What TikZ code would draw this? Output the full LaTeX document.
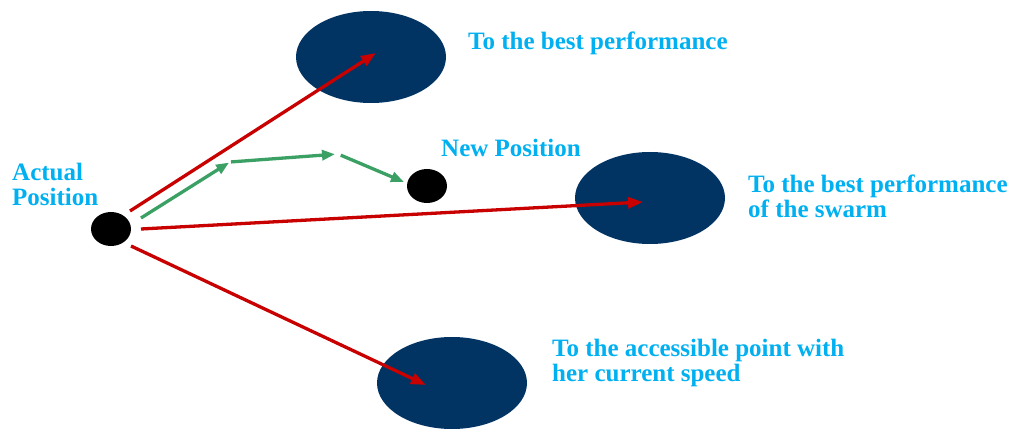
\documentclass[tikz,border=0pt]{standalone}
\usepackage{fontspec}
\setmainfont{Liberation Serif}
\usetikzlibrary{shapes.geometric,arrows.meta}
\definecolor{lblue}{RGB}{0,176,240}
\definecolor{navy}{RGB}{2,52,99}
\definecolor{darkred}{RGB}{200,0,0}
\definecolor{dgreen}{RGB}{58,160,100}
\tikzset{
  blob/.style={ellipse,fill=navy,draw=none,minimum width=150pt,minimum height=92pt,inner sep=0pt},
  dot/.style={ellipse,fill=black,draw=none,minimum width=40pt,minimum height=34pt,inner sep=0pt},
  lbl/.style={text=lblue,font=\bfseries\fontsize{25}{25}\selectfont,align=left,inner sep=0pt,anchor=base west},
  redarr/.style={draw=darkred,line width=3.3pt,-{Triangle[length=15pt,width=11pt]}},
  greenarr/.style={draw=dgreen,line width=3.3pt,-{Triangle[length=13pt,width=10pt]}}
}
\begin{document}
\begin{tikzpicture}[x=1pt,y=-1pt]
\useasboundingbox (0,0) rectangle (1010,430);
\node[blob] (best) at (371,57) {};
\node[blob] (swarm) at (650,198) {};
\node[blob] (speed) at (452,383) {};
\node[dot] (actual) at (111,229) {};
\node[dot] (newpos) at (427,186) {};
\coordinate (w1) at (230,162);
\coordinate (w2) at (338,154);
\node[lbl] (lbest) at (468,50) {To the best performance};
\node[lbl] (lnew) at (441,157) {New Position};
\node[lbl] (lactual) at (12,206) {Actual\\Position};
\node[lbl] (lswarm) at (748,218) {To the best performance\\of the swarm};
\node[lbl] (lspeed) at (552,382) {To the accessible point with\\her current speed};
\draw[redarr] ([shift={(19,-18)}]actual.center) -- ([shift={(5,-4)}]best.center);
\draw[redarr] ([shift={(30,0)}]actual.center) -- ([shift={(-7,4)}]swarm.center);
\draw[redarr] ([shift={(20,17)}]actual.center) -- ([shift={(-26,2)}]speed.center);
\draw[greenarr,shorten >=1pt] ([shift={(30,-11)}]actual.center) -- (w1);
\draw[greenarr,shorten <=1pt,shorten >=3pt] (w1) -- (w2);
\draw[greenarr,shorten <=3pt] (w2) -- ([shift={(-23,-4)}]newpos.center);
\end{tikzpicture}
\end{document}
